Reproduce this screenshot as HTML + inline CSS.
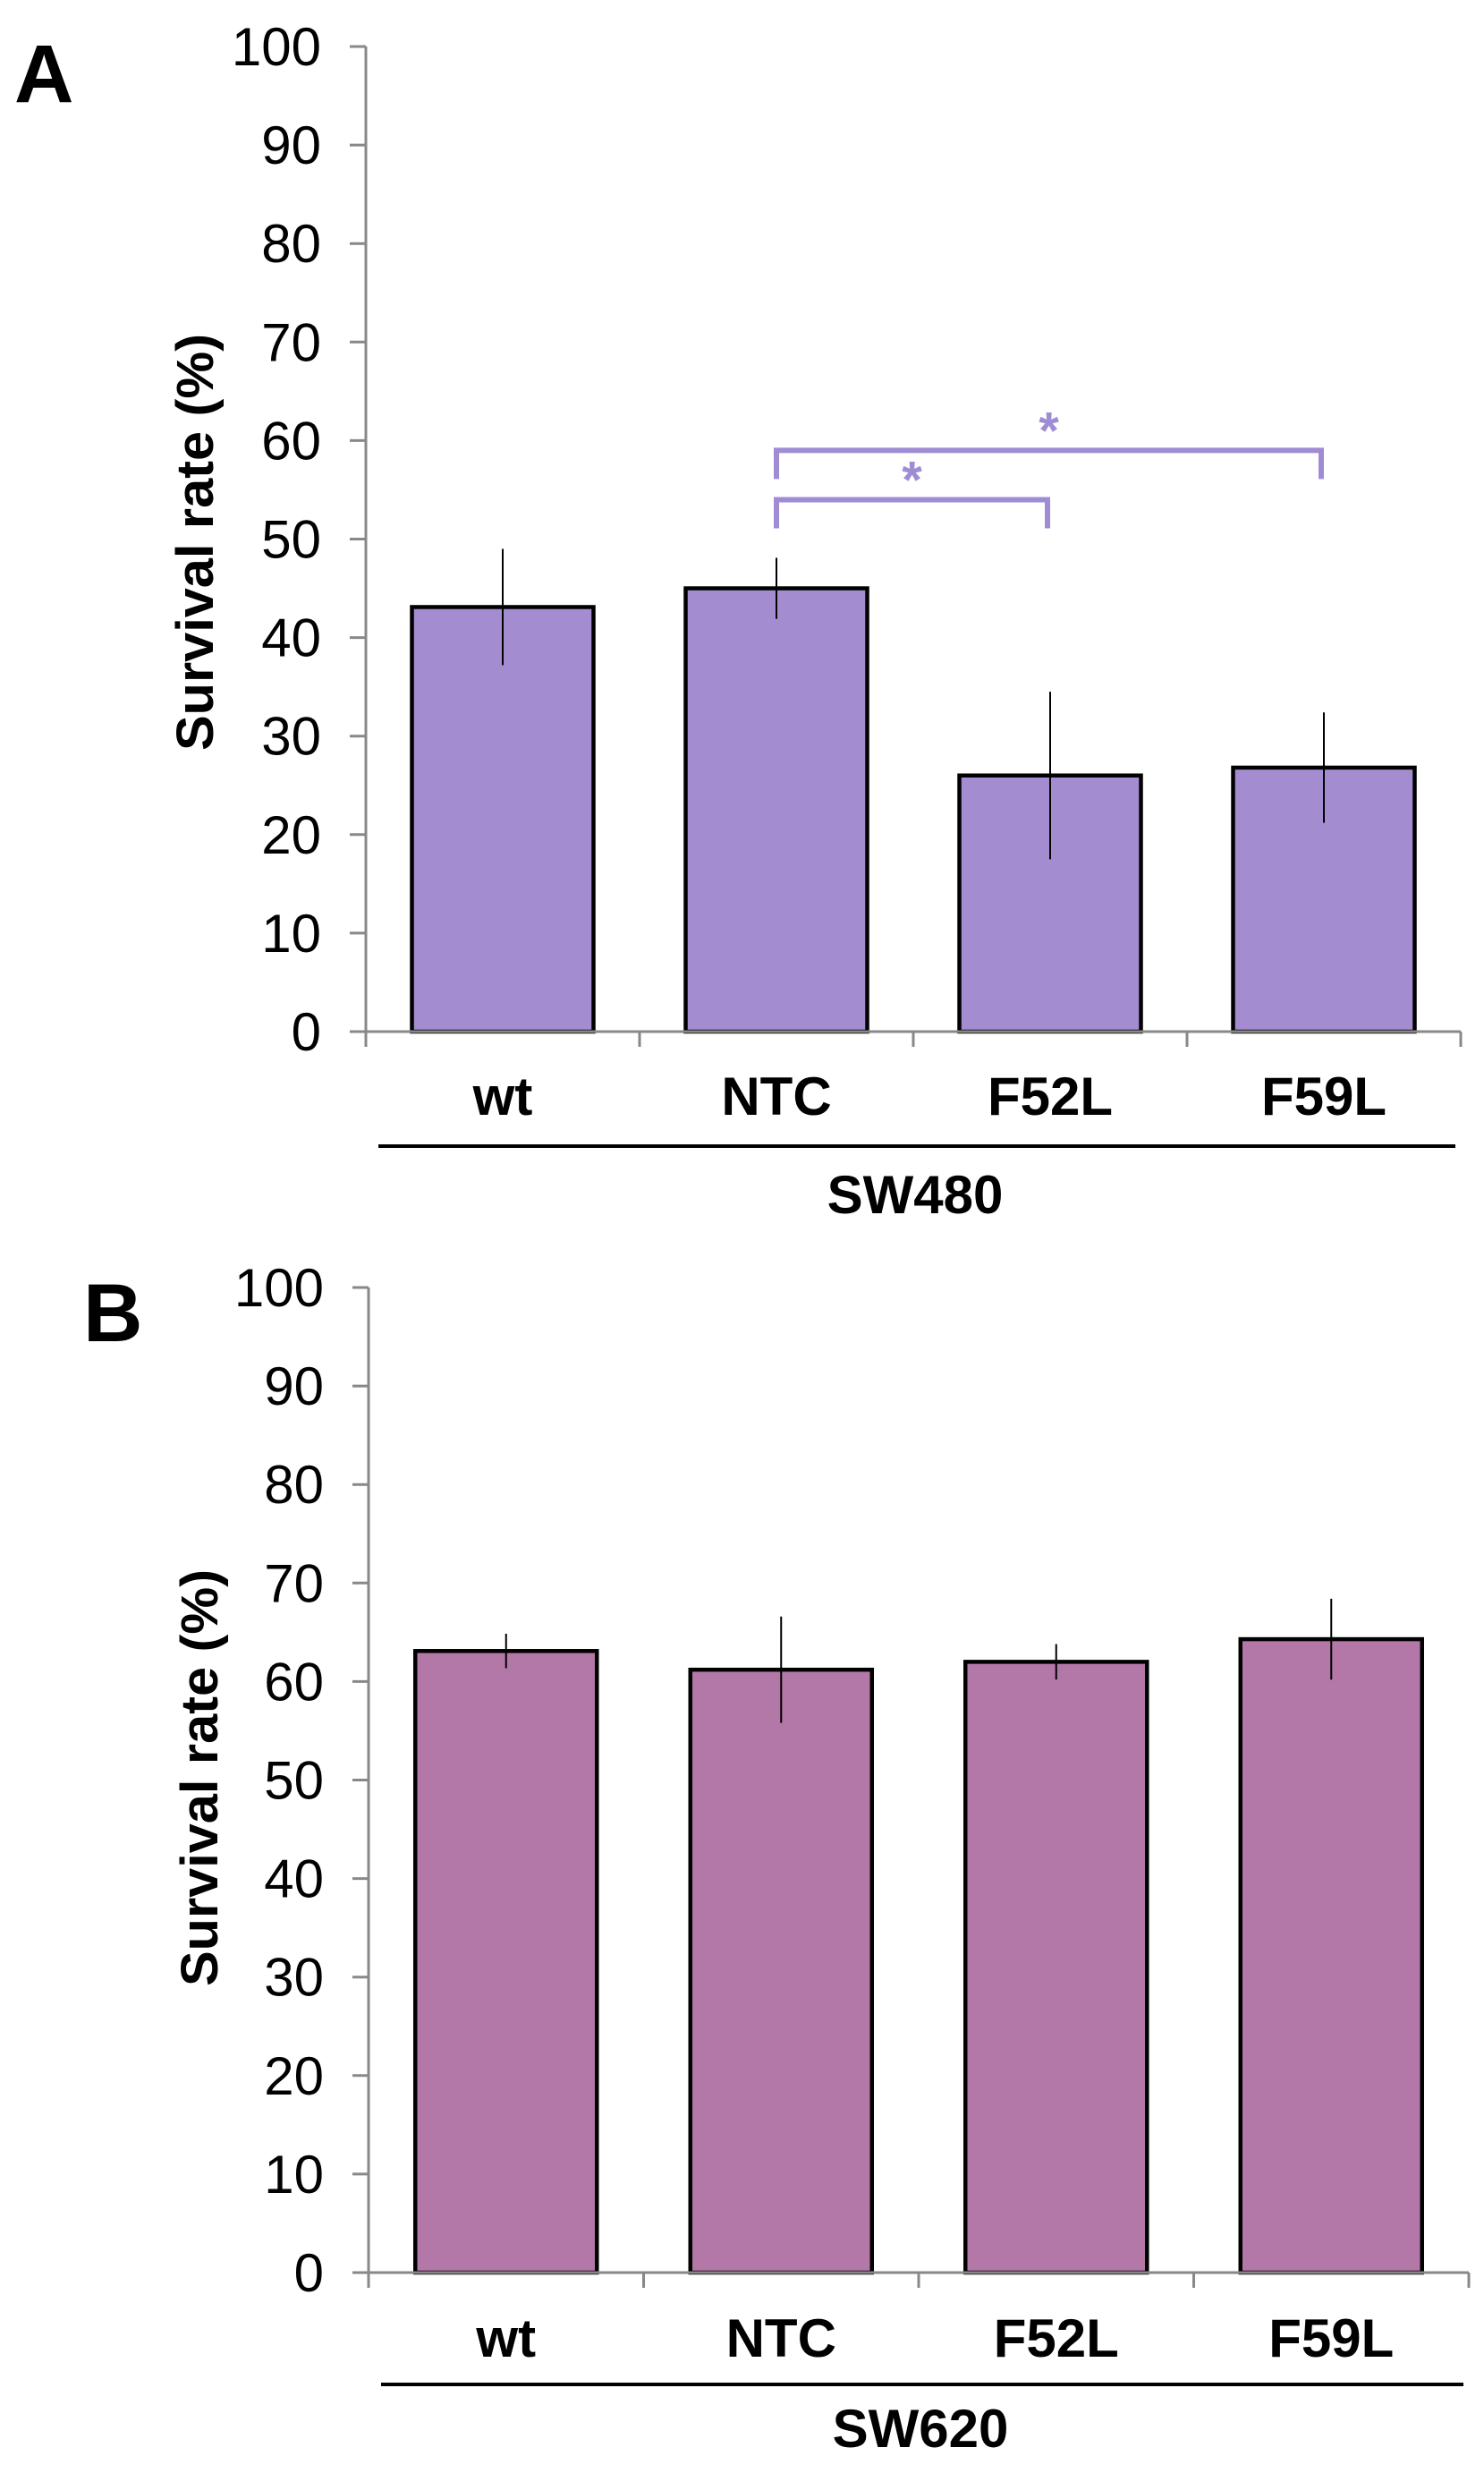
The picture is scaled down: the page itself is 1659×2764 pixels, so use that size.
<!DOCTYPE html>
<html><head><meta charset="utf-8"><style>
html,body{margin:0;padding:0;background:#fff}
svg{display:block}
text{font-family:"Liberation Sans",Arial,sans-serif}
</style></head><body>
<svg id="fig" width="1659" height="2764" viewBox="0 0 1659 2764" xmlns="http://www.w3.org/2000/svg">
<text x="16" y="114" font-size="92" font-weight="bold">A</text>
<text x="93" y="1499" font-size="92" font-weight="bold">B</text>
</svg>
<script>
const categories = ["wt","NTC","F52L","F59L"];
const yTicks = [0,10,20,30,40,50,60,70,80,90,100];
const valuesA = [43.1, 45.0, 26.0, 26.8];
const errorsA = [5.9, 3.1, 8.5, 5.6];
const valuesB = [63.1, 61.2, 62.0, 64.3];
const errorsB = [1.75, 5.4, 1.8, 4.1];
const groupA = "SW480";
const groupB = "SW620";
const sigPairsA = [[1,2,54],[1,3,59]];

const NS = "http://www.w3.org/2000/svg";
const svg = document.getElementById('fig');
function mk(tag, attrs, parent){
  const e = document.createElementNS(NS, tag);
  for (const k in attrs) e.setAttribute(k, attrs[k]);
  (parent||svg).appendChild(e);
  return e;
}
function drawChart(o){
  const g = mk('g', {});
  
  
  const y = v => o.y0 - (o.y0 - o.y100) * v / 100;
  const slot = (o.x1 - o.x0) / categories.length;
  const xc = i => o.x0 + slot * (i + 0.5);
  // y axis
  const ax = mk('line', {x1:o.x0, y1:o.y100, x2:o.x0, y2:o.y0, stroke:'#888', 'stroke-width':3}, g);
  
  
  yTicks.forEach(t => {
    mk('line', {x1:o.x0-18, y1:y(t), x2:o.x0, y2:y(t), stroke:'#888', 'stroke-width':3}, g);
    const tl = mk('text', {x:o.x0-50, y:y(t)+21, 'font-size':60, 'text-anchor':'end'}, g);
    tl.textContent = t;
    
    
  });
  // bars
  categories.forEach((c, i) => {
    const v = o.values[i], e = o.errors[i];
    const bw = 203;
    const b = mk('rect', {x:xc(i)-bw/2, y:y(v), width:bw, height:o.y0-y(v), fill:o.color, stroke:'#000', 'stroke-width':4.5}, g);
    
    
    const eb = mk('line', {x1:xc(i), y1:y(v+e), x2:xc(i), y2:y(v-e), stroke:'#000', 'stroke-width':2}, g);
    
    
    const cl = mk('text', {x:xc(i), y:o.labelY, 'font-size':60, 'font-weight':'bold', 'text-anchor':'middle'}, g);
    cl.textContent = c;
    
    
  });
  // x axis
  const xa = mk('line', {x1:o.x0-18, y1:o.y0, x2:o.x1, y2:o.y0, stroke:'#888', 'stroke-width':3}, g);
  
  
  for (let i = 0; i <= categories.length; i++) {
    mk('line', {x1:o.x0+slot*i, y1:o.y0, x2:o.x0+slot*i, y2:o.y0+17, stroke:'#888', 'stroke-width':3}, g);
  }
  const sep = mk('line', {x1:o.x0+14, y1:o.sepY, x2:o.x1-6, y2:o.sepY, stroke:'#000', 'stroke-width':4}, g);
  
  
  const gl = mk('text', {x:(o.x0+o.x1)/2+2, y:o.groupY, 'font-size':60, 'font-weight':'bold', 'text-anchor':'middle'}, g);
  gl.textContent = o.group;
  
  
  const yt = mk('text', {x:0, y:0, 'font-size':58, 'font-weight':'bold', 'text-anchor':'middle', transform:'translate('+(o.titleX)+','+(o.titleY)+') rotate(-90)', textLength:466, lengthAdjust:'spacingAndGlyphs'}, g);
  yt.textContent = 'Survival rate (%)';
  
  
  // significance brackets
  (o.sig||[]).forEach(p => {
    const xa1 = xc(p[0]), xb1 = xc(p[1]) - 3, yy = y(p[2]);
    const br = mk('path', {d:'M'+xa1+','+(yy+32)+' V'+yy+' H'+xb1+' V'+(yy+32), fill:'none', stroke:'#a08cd4', 'stroke-width':6}, g);
    
    
    const st = mk('text', {x:(xa1+xb1)/2, y:yy-2, 'font-size':58, 'font-weight':'bold', fill:'#a08cd4', 'text-anchor':'middle'}, g);
    st.textContent = '*';
    
    
  });
}
drawChart({name:'chart-sw480', x0:409, x1:1633, y0:1153, y100:52, values:valuesA, errors:errorsA, color:'#a38dd0', labelY:1246, sepY:1281, groupY:1356, group:groupA, titleX:238, titleY:606, sig:sigPairsA});
drawChart({name:'chart-sw620', x0:412, x1:1642, y0:2540, y100:1439, values:valuesB, errors:errorsB, color:'#b478a8', labelY:2634, sepY:2665, groupY:2735, group:groupB, titleX:243, titleY:1987});
</script>
</body></html>
